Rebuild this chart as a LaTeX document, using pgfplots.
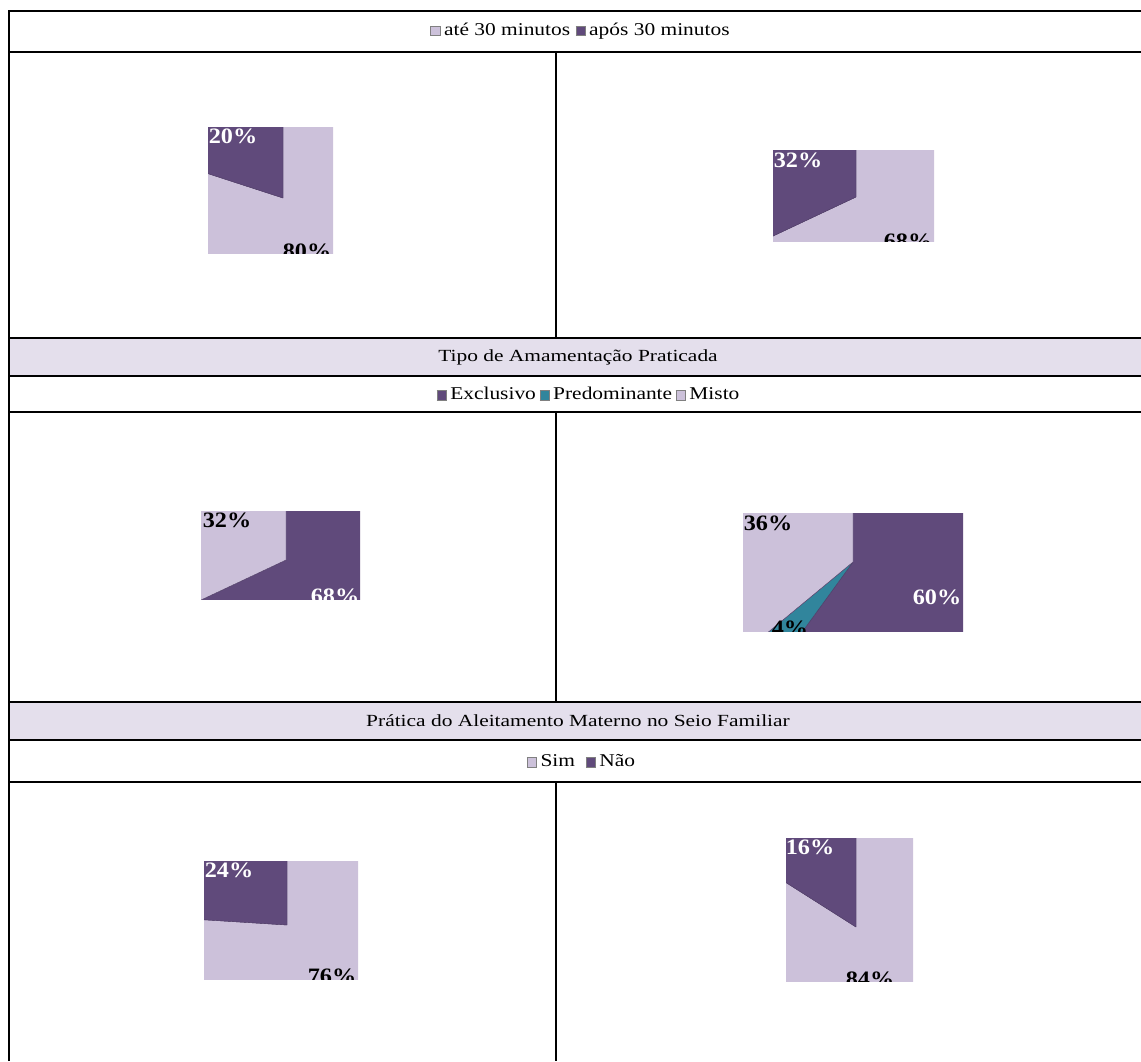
\documentclass[border=0pt]{standalone}
\usepackage{pgfplots}
\pgfplotsset{compat=1.18}
\usepackage{fontspec}
\setmainfont{Liberation Serif}

\definecolor{roxo}{HTML}{604A7B}
\definecolor{lilas}{HTML}{CCC1DA}
\definecolor{azul}{HTML}{31859C}
\definecolor{faixa}{HTML}{E4DFEC}
\definecolor{contorno}{HTML}{4F3D66}

% one clipped pie per axis: 1 axis unit = 1pt, origin at the pie centre
\pgfplotsset{
  pizza/.style={scale only axis, hide axis, anchor=south west, clip=true,
    clip bounding box=upper bound},
  fatia/.style={data cs=polar, no markers, draw=contorno, line width=0.4pt, fill=#1},
}
\tikzset{
  rot/.style={font=\fontsize{22}{22}\selectfont\bfseries, xscale=1.1, inner sep=0pt},
  txt/.style={font=\fontsize{17}{19}\selectfont, xscale=1.26, inner sep=0pt},
  leg/.style={font=\fontsize{18}{20}\selectfont, xscale=1.19, inner sep=0pt},
  grade/.style={line width=2pt},
}
\newcommand{\quadro}[1]{{\fboxsep=0pt\fboxrule=0.5pt\fcolorbox{gray}{#1}{\rule{0pt}{9pt}\rule{7.5pt}{0pt}}}}

\begin{document}
\begin{tikzpicture}[x=1pt,y=1pt]
\useasboundingbox (0,0) rectangle (1141,1061);

% title bands
\fill[faixa] (9,723) rectangle (1141,685);
\fill[faixa] (9,359) rectangle (1141,321);

% table rules
\draw[grade] (9,0) -- (9,1050) -- (1141,1050);
\foreach \yy in {1009,723,685,649,359,321,279}
  \draw[grade] (9,\yy) -- (1141,\yy);
\draw[grade] (556,1009) -- (556,723);
\draw[grade] (556,649) -- (556,359);
\draw[grade] (556,279) -- (556,0);

% legends and titles
\node[leg] at (580,1030) {\quadro{lilas}\,até 30 minutos\ \quadro{roxo}\,após 30 minutos};
\node[txt] at (578,704) {Tipo de Amamentação Praticada};
\node[leg] at (588,667) {\quadro{roxo}\,Exclusivo\,\quadro{azul}\,Predominante\,\quadro{lilas}\,Misto};
\node[txt] at (578,340) {Prática do Aleitamento Materno no Seio Familiar};
\node[leg] at (581,300) {\quadro{lilas}\,Sim\ \ \quadro{roxo}\,Não};

% Tempo até a primeira mamada, grupo 1: 80% / 20%
\begin{axis}[pizza, at={(208,807)}, width=125pt, height=126pt,
  xmin=-75, xmax=50, ymin=-56, ymax=70]
\addplot[fatia=lilas] coordinates {(0,0) (90,300) (18,300) (-54,300) (-126,300) (-198,300) (0,0)};
\addplot[fatia=roxo] coordinates {(0,0) (90,300) (126,300) (162,300) (0,0)};
\node[rot, white] at (axis cs:-50,62) {20\%};
\node[rot, black] at (axis cs:24,-53) {80\%};
\end{axis}

% grupo 2: 68% / 32%
\begin{axis}[pizza, at={(773,819)}, width=161pt, height=91pt,
  xmin=-83, xmax=78, ymin=-45, ymax=46]
\addplot[fatia=lilas] coordinates {(0,0) (90,300) (30,300) (-30,300) (-90,300) (-154.8,300) (0,0)};
\addplot[fatia=roxo] coordinates {(0,0) (90,300) (147.6,300) (205.2,300) (0,0)};
\node[rot, white] at (axis cs:-58,37) {32\%};
\node[rot, black] at (axis cs:52,-44) {68\%};
\end{axis}

% Tipo de amamentação, grupo 1: exclusivo 68%, misto 32%
\begin{axis}[pizza, at={(201,461)}, width=159pt, height=88pt,
  xmin=-85, xmax=74, ymin=-40, ymax=48]
\addplot[fatia=roxo] coordinates {(0,0) (90,300) (30,300) (-30,300) (-90,300) (-154.8,300) (0,0)};
\addplot[fatia=lilas] coordinates {(0,0) (90,300) (147.6,300) (205.2,300) (0,0)};
\node[rot, black] at (axis cs:-59,40) {32\%};
\node[rot, white] at (axis cs:49,-36) {68\%};
\end{axis}

% grupo 2: exclusivo 60%, predominante 4%, misto 36%
\begin{axis}[pizza, at={(743,429)}, width=220pt, height=118pt,
  xmin=-110, xmax=110, ymin=-70, ymax=48]
\addplot[fatia=roxo] coordinates {(0,0) (90,300) (18,300) (-54,300) (-126,300) (0,0)};
\addplot[fatia=azul] coordinates {(0,0) (-126,300) (-140.4,300) (0,0)};
\addplot[fatia=lilas] coordinates {(0,0) (-140.4,300) (154.8,300) (90,300) (0,0)};
\node[rot, black] at (axis cs:-85,39) {36\%};
\node[rot, white] at (axis cs:84,-35) {60\%};
\node[rot, black] at (axis cs:-63,-66) {4\%};
\end{axis}

% Aleitamento no seio familiar, grupo 1: sim 76%, não 24%
\begin{axis}[pizza, at={(204,81)}, width=154pt, height=118pt,
  xmin=-83, xmax=71, ymin=-55, ymax=63]
\addplot[fatia=lilas] coordinates {(0,0) (90,300) (21.6,300) (-46.8,300) (-115.2,300) (-183.6,300) (0,0)};
\addplot[fatia=roxo] coordinates {(0,0) (90,300) (133.2,300) (176.4,300) (0,0)};
\node[rot, white] at (axis cs:-58,55) {24\%};
\node[rot, black] at (axis cs:45,-51) {76\%};
\end{axis}

% grupo 2: sim 84%, não 16%
\begin{axis}[pizza, at={(786,79)}, width=127pt, height=143pt,
  xmin=-70, xmax=57, ymin=-55, ymax=88]
\addplot[fatia=lilas] coordinates {(0,0) (90,300) (14.4,300) (-61.2,300) (-136.8,300) (-212.4,300) (0,0)};
\addplot[fatia=roxo] coordinates {(0,0) (90,300) (147.6,300) (0,0)};
\node[rot, white] at (axis cs:-46,80) {16\%};
\node[rot, black] at (axis cs:14,-52) {84\%};
\end{axis}
\end{tikzpicture}
\end{document}
